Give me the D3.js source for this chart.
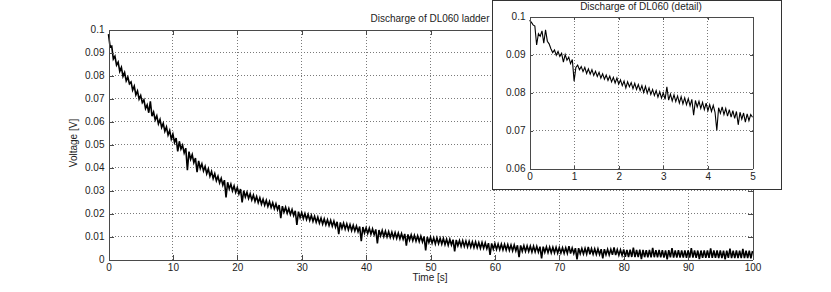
<!DOCTYPE html>
<html>
<head>
<meta charset="utf-8">
<script src="https://cdn.jsdelivr.net/npm/d3@7"></script>
<style>
body { margin: 0; background: #fff; }
svg { display: block; font-family: "Liberation Sans", Arial, sans-serif; }
</style>
</head>
<body>
<svg width="831" height="292"></svg>
<script>
"use strict";

// full record, one sample every 0.25 s from 0 to 100 s [V]
var mainStep = 0.25;
var mainVolts = [
  0.0980,0.0925,0.0928,0.0872,0.0884,0.0845,0.0858,0.0818,0.0835,0.0796,0.0813,0.0777,0.0793,0.0764,0.0772,0.0736,0.0754,0.0716,0.0733,0.0697,
  0.0713,0.0682,0.0694,0.0656,0.0672,0.0638,0.0688,0.0623,0.0641,0.0607,0.0625,0.0590,0.0609,0.0574,0.0592,0.0557,0.0576,0.0541,0.0561,0.0524,
  0.0545,0.0509,0.0528,0.0470,0.0514,0.0480,0.0497,0.0463,0.0484,0.0388,0.0469,0.0436,0.0456,0.0421,0.0441,0.0380,0.0429,0.0396,0.0416,0.0385,
  0.0405,0.0373,0.0394,0.0362,0.0383,0.0352,0.0373,0.0343,0.0362,0.0333,0.0353,0.0324,0.0345,0.0270,0.0336,0.0307,0.0328,0.0299,0.0320,0.0292,
  0.0313,0.0285,0.0306,0.0248,0.0299,0.0272,0.0292,0.0265,0.0286,0.0259,0.0280,0.0253,0.0274,0.0247,0.0268,0.0241,0.0262,0.0236,0.0257,0.0231,
  0.0252,0.0226,0.0247,0.0221,0.0242,0.0216,0.0237,0.0180,0.0232,0.0206,0.0227,0.0201,0.0222,0.0196,0.0217,0.0191,0.0212,0.0150,0.0208,0.0182,
  0.0204,0.0178,0.0200,0.0174,0.0196,0.0170,0.0192,0.0166,0.0188,0.0162,0.0184,0.0158,0.0180,0.0154,0.0177,0.0151,0.0173,0.0148,0.0170,0.0145,
  0.0167,0.0141,0.0164,0.0110,0.0161,0.0135,0.0158,0.0132,0.0155,0.0129,0.0152,0.0126,0.0149,0.0124,0.0146,0.0121,0.0143,0.0080,0.0141,0.0115,
  0.0138,0.0113,0.0136,0.0110,0.0133,0.0108,0.0131,0.0070,0.0128,0.0103,0.0126,0.0100,0.0123,0.0098,0.0121,0.0096,0.0119,0.0094,0.0117,0.0092,
  0.0115,0.0090,0.0113,0.0088,0.0111,0.0060,0.0109,0.0084,0.0107,0.0082,0.0105,0.0080,0.0103,0.0078,0.0102,0.0077,0.0100,0.0040,0.0098,0.0074,
  0.0097,0.0071,0.0094,0.0068,0.0094,0.0069,0.0092,0.0067,0.0091,0.0065,0.0088,0.0062,0.0088,0.0063,0.0086,0.0035,0.0085,0.0060,0.0082,0.0057,
  0.0082,0.0057,0.0080,0.0055,0.0079,0.0054,0.0077,0.0052,0.0076,0.0051,0.0074,0.0049,0.0074,0.0049,0.0072,0.0047,0.0071,0.0020,0.0070,0.0045,
  0.0069,0.0044,0.0067,0.0043,0.0067,0.0042,0.0066,0.0041,0.0065,0.0040,0.0063,0.0038,0.0063,0.0038,0.0062,0.0010,0.0061,0.0036,0.0060,0.0035,
  0.0059,0.0035,0.0058,0.0033,0.0058,0.0033,0.0057,0.0032,0.0056,0.0005,0.0056,0.0031,0.0055,0.0030,0.0054,0.0029,0.0053,0.0029,0.0053,0.0028,
  0.0052,0.0028,0.0051,0.0027,0.0051,0.0027,0.0058,0.0026,0.0050,0.0026,0.0049,0.0000,0.0049,0.0025,0.0048,0.0024,0.0048,0.0024,0.0055,0.0023,
  0.0047,0.0023,0.0046,0.0022,0.0046,0.0022,0.0045,0.0005,0.0045,0.0021,0.0044,0.0020,0.0044,0.0020,0.0052,0.0019,0.0043,0.0019,0.0042,0.0018,
  0.0044,0.0012,0.0042,0.0010,0.0043,0.0011,0.0052,0.0010,0.0042,0.0010,0.0043,0.0002,0.0042,0.0010,0.0041,0.0009,0.0042,0.0009,0.0050,0.0010,
  0.0041,0.0009,0.0042,0.0009,0.0041,0.0008,0.0040,0.0001,0.0041,0.0009,0.0049,0.0008,0.0040,0.0008,0.0041,0.0008,0.0040,0.0008,0.0040,0.0007,
  0.0040,0.0008,0.0049,0.0008,0.0040,0.0007,0.0039,0.0002,0.0039,0.0007,0.0040,0.0007,0.0039,0.0007,0.0048,0.0007,0.0039,0.0007,0.0039,0.0006,
  0.0039,0.0006,0.0038,0.0001,0.0038,0.0007,0.0047,0.0006,0.0038,0.0006,0.0039,0.0006,0.0038,0.0006,0.0046,0.0006,0.0038,0.0006,0.0038,0.0005,
  0.0037
];

// first five seconds, one sample every 0.04 s [V]
var detailStep = 0.04;
var detailVolts = [
  0.0990,0.0985,0.0978,0.0975,0.0925,0.0955,0.0948,0.0962,0.0930,0.0965,0.0935,0.0928,0.0915,0.0905,0.0912,0.0898,0.0908,0.0895,0.0903,0.0880,0.0900,0.0885,0.0893,0.0876,0.0887,
  0.0830,0.0866,0.0872,0.0860,0.0868,0.0855,0.0866,0.0850,0.0862,0.0848,0.0860,0.0845,0.0856,0.0842,0.0853,0.0838,0.0849,0.0835,0.0846,0.0832,0.0843,0.0828,0.0840,0.0825,0.0838,
  0.0822,0.0833,0.0818,0.0830,0.0812,0.0828,0.0815,0.0826,0.0810,0.0824,0.0808,0.0821,0.0805,0.0818,0.0800,0.0816,0.0798,0.0812,0.0795,0.0808,0.0792,0.0805,0.0788,0.0802,0.0785,
  0.0799,0.0782,0.0815,0.0780,0.0796,0.0778,0.0794,0.0776,0.0791,0.0772,0.0789,0.0770,0.0786,0.0768,0.0784,0.0765,0.0782,0.0740,0.0779,0.0762,0.0777,0.0758,0.0774,0.0755,0.0772,
  0.0752,0.0768,0.0750,0.0766,0.0748,0.0700,0.0760,0.0745,0.0762,0.0742,0.0758,0.0738,0.0755,0.0735,0.0752,0.0732,0.0750,0.0715,0.0748,0.0730,0.0746,0.0722,0.0744,0.0726,0.0742,
  0.0735
];

var mainXTicks = [0, 10, 20, 30, 40, 50, 60, 70, 80, 90, 100];
var mainYTicks = [0, 0.01, 0.02, 0.03, 0.04, 0.05, 0.06, 0.07, 0.08, 0.09, 0.1];
var detailXTicks = [0, 1, 2, 3, 4, 5];
var detailYTicks = [0.06, 0.07, 0.08, 0.09, 0.1];

var mainTitle = "Discharge of DL060 ladder";
var detailTitle = "Discharge of DL060 (detail)";
var xLabel = "Time [s]";
var yLabel = "Voltage [V]";

var FONT = "Liberation Sans, Arial, sans-serif";
var svg = d3.select("svg");

var fmt = d => d === 0 ? "0" : String(+d.toFixed(2));

function grid(g, x, y, xt, yt) {
  var gg = g.append("g")
    .attr("stroke", "#7a7a7a")
    .attr("stroke-dasharray", "1,2")
    .attr("shape-rendering", "crispEdges");
  gg.selectAll(".gx").data(xt.slice(1, -1)).enter().append("line")
    .attr("x1", d => x(d)).attr("x2", d => x(d))
    .attr("y1", y.range()[0]).attr("y2", y.range()[1]);
  gg.selectAll(".gy").data(yt.slice(1, -1)).enter().append("line")
    .attr("y1", d => y(d)).attr("y2", d => y(d))
    .attr("x1", x.range()[0]).attr("x2", x.range()[1]);
}

function axes(g, x, y, xt, yt, tick) {
  var l = x.range()[0], r = x.range()[1];
  var b = y.range()[0], t = y.range()[1];
  var parts = [
    g.append("g").attr("transform", "translate(0," + b + ")")
      .call(d3.axisBottom(x).tickValues(xt).tickSizeInner(-tick).tickSizeOuter(0).tickPadding(4).tickFormat(fmt)),
    g.append("g").attr("transform", "translate(0," + t + ")")
      .call(d3.axisTop(x).tickValues(xt).tickSizeInner(-tick).tickSizeOuter(0).tickFormat("")),
    g.append("g").attr("transform", "translate(" + l + ",0)")
      .call(d3.axisLeft(y).tickValues(yt).tickSizeInner(-tick).tickSizeOuter(0).tickPadding(4).tickFormat(fmt)),
    g.append("g").attr("transform", "translate(" + r + ",0)")
      .call(d3.axisRight(y).tickValues(yt).tickSizeInner(-tick).tickSizeOuter(0).tickFormat(""))
  ];
  parts.forEach(p => {
    p.attr("font-family", FONT).attr("font-size", 10);
    p.selectAll(".domain, .tick line").attr("stroke", "#4a4a4a").attr("shape-rendering", "crispEdges");
    p.selectAll("text").attr("fill", "#222");
  });
}

// main plot
var x = d3.scaleLinear().domain([0, 100]).range([108.5, 752.5]);
var y = d3.scaleLinear().domain([0, 0.1]).range([259.5, 29.5]);
var main = svg.append("g");
grid(main, x, y, mainXTicks, mainYTicks);
main.append("path")
  .datum(mainVolts)
  .attr("d", d3.line().x((d, i) => x(i * mainStep)).y(d => y(d)))
  .attr("fill", "none")
  .attr("stroke", "#000")
  .attr("stroke-width", 1.6);
axes(main, x, y, mainXTicks, mainYTicks, 5);

main.append("text").attr("x", 430).attr("y", 22).attr("text-anchor", "middle")
  .attr("font-family", FONT).attr("font-size", 10).attr("fill", "#222").text(mainTitle);
main.append("text").attr("x", 430).attr("y", 281).attr("text-anchor", "middle")
  .attr("font-family", FONT).attr("font-size", 10).attr("fill", "#222").text(xLabel);
main.append("text").attr("transform", "translate(77,143) rotate(-90)").attr("text-anchor", "middle")
  .attr("font-family", FONT).attr("font-size", 10).attr("fill", "#222").text(yLabel);

// inset
var inset = svg.append("g");
inset.append("rect")
  .attr("x", 492.5).attr("y", 0.5).attr("width", 288.5).attr("height", 189)
  .attr("fill", "#fff").attr("stroke", "#333").attr("shape-rendering", "crispEdges");
var xi = d3.scaleLinear().domain([0, 5]).range([529.5, 752.5]);
var yi = d3.scaleLinear().domain([0.06, 0.1]).range([168.5, 16.5]);
grid(inset, xi, yi, detailXTicks, detailYTicks);
inset.append("path")
  .datum(detailVolts)
  .attr("d", d3.line().x((d, i) => xi(i * detailStep)).y(d => yi(d)))
  .attr("fill", "none")
  .attr("stroke", "#000")
  .attr("stroke-width", 1.1);
axes(inset, xi, yi, detailXTicks, detailYTicks, 3);
inset.append("text").attr("x", 641).attr("y", 10).attr("text-anchor", "middle")
  .attr("font-family", FONT).attr("font-size", 10).attr("fill", "#222").text(detailTitle);
</script>
</body>
</html>
